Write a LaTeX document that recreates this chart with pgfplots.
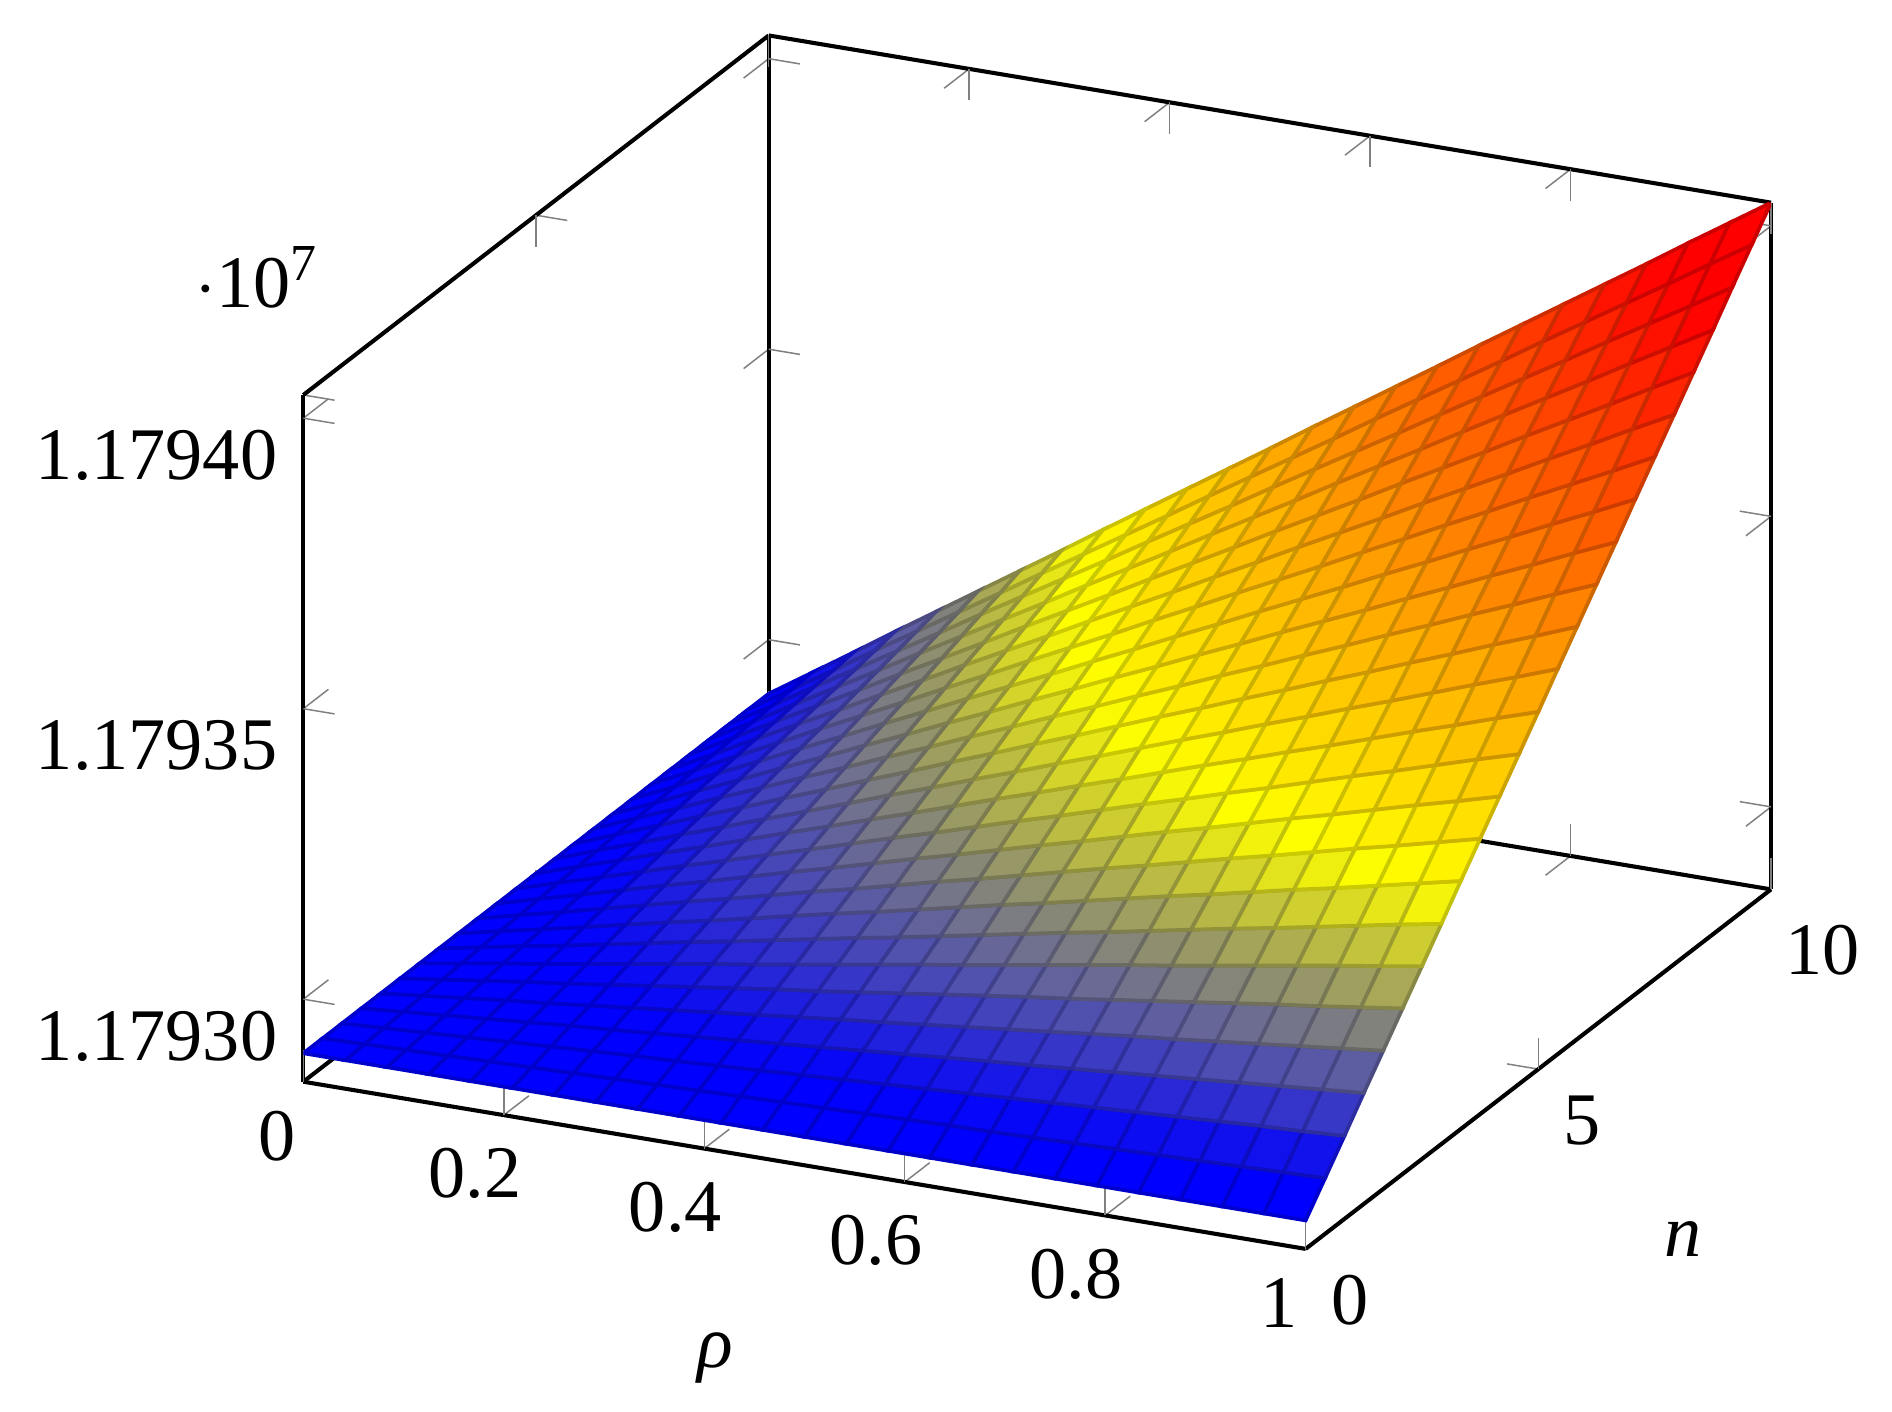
\documentclass[border=0pt]{standalone}
\usepackage{fontspec}
\setmainfont{Liberation Serif}
\usepackage{pgfplots}
\pgfplotsset{compat=1.18}
\begin{document}
\begin{tikzpicture}
\begin{axis}[
  name=a,
  x={(135.08pt,-22.53pt)}, y={(6.272pt,4.845pt)}, z={(0pt,0.0783pt)},
  xmin=0,xmax=1,ymin=0,ymax=10,zmin=11792858,zmax=11794040,
  xtick={0,0.2,0.4,0.6,0.8,1}, ytick={0,5,10},
  ztick={11793000,11793500,11794000},
  zticklabels={1.17930,1.17935,1.17940},
  scaled z ticks=false,
  /pgf/number format/assume math mode=true,
  every tick/.style={very thin,gray},
  axis line style={line width=0.55pt},
  xlabel={\textit{ρ}}, ylabel={\textit{n}},
  xlabel style={yshift=-1.5pt},
  ylabel style={yshift=-0.4pt,xshift=0.3pt},
  colormap/hot,
]
\addplot3[surf,line width=0.5pt,mesh/rows=25] table[x expr=\thisrow{i}/24,y expr=\thisrow{j}*10/24,z=z,row sep=\\]{
i j z\\
0 0 11792907\\ 0 1 11792907\\ 0 2 11792907\\ 0 3 11792907\\ 0 4 11792907\\ 0 5 11792907\\ 0 6 11792907\\ 0 7 11792907\\ 0 8 11792907\\ 0 9 11792907\\ 0 10 11792907\\ 0 11 11792907\\ 0 12 11792907\\ 0 13 11792907\\ 0 14 11792907\\ 0 15 11792907\\ 0 16 11792907\\ 0 17 11792907\\ 0 18 11792907\\ 0 19 11792907\\ 0 20 11792907\\ 0 21 11792907\\ 0 22 11792907\\ 0 23 11792907\\ 0 24 11792907\\
1 0 11792907\\ 1 1 11792909\\ 1 2 11792911\\ 1 3 11792913\\ 1 4 11792915\\ 1 5 11792917\\ 1 6 11792919\\ 1 7 11792921\\ 1 8 11792923\\ 1 9 11792925\\ 1 10 11792927\\ 1 11 11792929\\ 1 12 11792931\\ 1 13 11792933\\ 1 14 11792935\\ 1 15 11792937\\ 1 16 11792938\\ 1 17 11792940\\ 1 18 11792942\\ 1 19 11792944\\ 1 20 11792946\\ 1 21 11792948\\ 1 22 11792950\\ 1 23 11792952\\ 1 24 11792954\\
2 0 11792907\\ 2 1 11792911\\ 2 2 11792915\\ 2 3 11792919\\ 2 4 11792923\\ 2 5 11792927\\ 2 6 11792931\\ 2 7 11792935\\ 2 8 11792938\\ 2 9 11792942\\ 2 10 11792946\\ 2 11 11792950\\ 2 12 11792954\\ 2 13 11792958\\ 2 14 11792962\\ 2 15 11792966\\ 2 16 11792970\\ 2 17 11792974\\ 2 18 11792978\\ 2 19 11792982\\ 2 20 11792986\\ 2 21 11792990\\ 2 22 11792994\\ 2 23 11792997\\ 2 24 11793001\\
3 0 11792907\\ 3 1 11792913\\ 3 2 11792919\\ 3 3 11792925\\ 3 4 11792931\\ 3 5 11792937\\ 3 6 11792942\\ 3 7 11792948\\ 3 8 11792954\\ 3 9 11792960\\ 3 10 11792966\\ 3 11 11792972\\ 3 12 11792978\\ 3 13 11792984\\ 3 14 11792990\\ 3 15 11792996\\ 3 16 11793001\\ 3 17 11793007\\ 3 18 11793013\\ 3 19 11793019\\ 3 20 11793025\\ 3 21 11793031\\ 3 22 11793037\\ 3 23 11793043\\ 3 24 11793049\\
4 0 11792907\\ 4 1 11792915\\ 4 2 11792923\\ 4 3 11792931\\ 4 4 11792938\\ 4 5 11792946\\ 4 6 11792954\\ 4 7 11792962\\ 4 8 11792970\\ 4 9 11792978\\ 4 10 11792986\\ 4 11 11792994\\ 4 12 11793001\\ 4 13 11793009\\ 4 14 11793017\\ 4 15 11793025\\ 4 16 11793033\\ 4 17 11793041\\ 4 18 11793049\\ 4 19 11793056\\ 4 20 11793064\\ 4 21 11793072\\ 4 22 11793080\\ 4 23 11793088\\ 4 24 11793096\\
5 0 11792907\\ 5 1 11792917\\ 5 2 11792927\\ 5 3 11792937\\ 5 4 11792946\\ 5 5 11792956\\ 5 6 11792966\\ 5 7 11792976\\ 5 8 11792986\\ 5 9 11792996\\ 5 10 11793005\\ 5 11 11793015\\ 5 12 11793025\\ 5 13 11793035\\ 5 14 11793045\\ 5 15 11793055\\ 5 16 11793064\\ 5 17 11793074\\ 5 18 11793084\\ 5 19 11793094\\ 5 20 11793104\\ 5 21 11793114\\ 5 22 11793123\\ 5 23 11793133\\ 5 24 11793143\\
6 0 11792907\\ 6 1 11792919\\ 6 2 11792931\\ 6 3 11792942\\ 6 4 11792954\\ 6 5 11792966\\ 6 6 11792978\\ 6 7 11792990\\ 6 8 11793001\\ 6 9 11793013\\ 6 10 11793025\\ 6 11 11793037\\ 6 12 11793049\\ 6 13 11793060\\ 6 14 11793072\\ 6 15 11793084\\ 6 16 11793096\\ 6 17 11793108\\ 6 18 11793119\\ 6 19 11793131\\ 6 20 11793143\\ 6 21 11793155\\ 6 22 11793167\\ 6 23 11793178\\ 6 24 11793190\\
7 0 11792907\\ 7 1 11792921\\ 7 2 11792935\\ 7 3 11792948\\ 7 4 11792962\\ 7 5 11792976\\ 7 6 11792990\\ 7 7 11793003\\ 7 8 11793017\\ 7 9 11793031\\ 7 10 11793045\\ 7 11 11793058\\ 7 12 11793072\\ 7 13 11793086\\ 7 14 11793100\\ 7 15 11793114\\ 7 16 11793127\\ 7 17 11793141\\ 7 18 11793155\\ 7 19 11793169\\ 7 20 11793182\\ 7 21 11793196\\ 7 22 11793210\\ 7 23 11793224\\ 7 24 11793237\\
8 0 11792907\\ 8 1 11792923\\ 8 2 11792938\\ 8 3 11792954\\ 8 4 11792970\\ 8 5 11792986\\ 8 6 11793001\\ 8 7 11793017\\ 8 8 11793033\\ 8 9 11793049\\ 8 10 11793064\\ 8 11 11793080\\ 8 12 11793096\\ 8 13 11793112\\ 8 14 11793127\\ 8 15 11793143\\ 8 16 11793159\\ 8 17 11793175\\ 8 18 11793190\\ 8 19 11793206\\ 8 20 11793222\\ 8 21 11793237\\ 8 22 11793253\\ 8 23 11793269\\ 8 24 11793285\\
9 0 11792907\\ 9 1 11792925\\ 9 2 11792942\\ 9 3 11792960\\ 9 4 11792978\\ 9 5 11792996\\ 9 6 11793013\\ 9 7 11793031\\ 9 8 11793049\\ 9 9 11793066\\ 9 10 11793084\\ 9 11 11793102\\ 9 12 11793119\\ 9 13 11793137\\ 9 14 11793155\\ 9 15 11793173\\ 9 16 11793190\\ 9 17 11793208\\ 9 18 11793226\\ 9 19 11793243\\ 9 20 11793261\\ 9 21 11793279\\ 9 22 11793296\\ 9 23 11793314\\ 9 24 11793332\\
10 0 11792907\\ 10 1 11792927\\ 10 2 11792946\\ 10 3 11792966\\ 10 4 11792986\\ 10 5 11793005\\ 10 6 11793025\\ 10 7 11793045\\ 10 8 11793064\\ 10 9 11793084\\ 10 10 11793104\\ 10 11 11793123\\ 10 12 11793143\\ 10 13 11793163\\ 10 14 11793182\\ 10 15 11793202\\ 10 16 11793222\\ 10 17 11793241\\ 10 18 11793261\\ 10 19 11793281\\ 10 20 11793300\\ 10 21 11793320\\ 10 22 11793340\\ 10 23 11793359\\ 10 24 11793379\\
11 0 11792907\\ 11 1 11792929\\ 11 2 11792950\\ 11 3 11792972\\ 11 4 11792994\\ 11 5 11793015\\ 11 6 11793037\\ 11 7 11793058\\ 11 8 11793080\\ 11 9 11793102\\ 11 10 11793123\\ 11 11 11793145\\ 11 12 11793167\\ 11 13 11793188\\ 11 14 11793210\\ 11 15 11793232\\ 11 16 11793253\\ 11 17 11793275\\ 11 18 11793296\\ 11 19 11793318\\ 11 20 11793340\\ 11 21 11793361\\ 11 22 11793383\\ 11 23 11793405\\ 11 24 11793426\\
12 0 11792907\\ 12 1 11792931\\ 12 2 11792954\\ 12 3 11792978\\ 12 4 11793001\\ 12 5 11793025\\ 12 6 11793049\\ 12 7 11793072\\ 12 8 11793096\\ 12 9 11793119\\ 12 10 11793143\\ 12 11 11793167\\ 12 12 11793190\\ 12 13 11793214\\ 12 14 11793237\\ 12 15 11793261\\ 12 16 11793285\\ 12 17 11793308\\ 12 18 11793332\\ 12 19 11793355\\ 12 20 11793379\\ 12 21 11793403\\ 12 22 11793426\\ 12 23 11793450\\ 12 24 11793473\\
13 0 11792907\\ 13 1 11792933\\ 13 2 11792958\\ 13 3 11792984\\ 13 4 11793009\\ 13 5 11793035\\ 13 6 11793060\\ 13 7 11793086\\ 13 8 11793112\\ 13 9 11793137\\ 13 10 11793163\\ 13 11 11793188\\ 13 12 11793214\\ 13 13 11793239\\ 13 14 11793265\\ 13 15 11793291\\ 13 16 11793316\\ 13 17 11793342\\ 13 18 11793367\\ 13 19 11793393\\ 13 20 11793418\\ 13 21 11793444\\ 13 22 11793470\\ 13 23 11793495\\ 13 24 11793521\\
14 0 11792907\\ 14 1 11792935\\ 14 2 11792962\\ 14 3 11792990\\ 14 4 11793017\\ 14 5 11793045\\ 14 6 11793072\\ 14 7 11793100\\ 14 8 11793127\\ 14 9 11793155\\ 14 10 11793182\\ 14 11 11793210\\ 14 12 11793237\\ 14 13 11793265\\ 14 14 11793293\\ 14 15 11793320\\ 14 16 11793348\\ 14 17 11793375\\ 14 18 11793403\\ 14 19 11793430\\ 14 20 11793458\\ 14 21 11793485\\ 14 22 11793513\\ 14 23 11793540\\ 14 24 11793568\\
15 0 11792907\\ 15 1 11792937\\ 15 2 11792966\\ 15 3 11792996\\ 15 4 11793025\\ 15 5 11793055\\ 15 6 11793084\\ 15 7 11793114\\ 15 8 11793143\\ 15 9 11793173\\ 15 10 11793202\\ 15 11 11793232\\ 15 12 11793261\\ 15 13 11793291\\ 15 14 11793320\\ 15 15 11793350\\ 15 16 11793379\\ 15 17 11793409\\ 15 18 11793438\\ 15 19 11793468\\ 15 20 11793497\\ 15 21 11793527\\ 15 22 11793556\\ 15 23 11793586\\ 15 24 11793615\\
16 0 11792907\\ 16 1 11792938\\ 16 2 11792970\\ 16 3 11793001\\ 16 4 11793033\\ 16 5 11793064\\ 16 6 11793096\\ 16 7 11793127\\ 16 8 11793159\\ 16 9 11793190\\ 16 10 11793222\\ 16 11 11793253\\ 16 12 11793285\\ 16 13 11793316\\ 16 14 11793348\\ 16 15 11793379\\ 16 16 11793411\\ 16 17 11793442\\ 16 18 11793473\\ 16 19 11793505\\ 16 20 11793536\\ 16 21 11793568\\ 16 22 11793599\\ 16 23 11793631\\ 16 24 11793662\\
17 0 11792907\\ 17 1 11792940\\ 17 2 11792974\\ 17 3 11793007\\ 17 4 11793041\\ 17 5 11793074\\ 17 6 11793108\\ 17 7 11793141\\ 17 8 11793175\\ 17 9 11793208\\ 17 10 11793241\\ 17 11 11793275\\ 17 12 11793308\\ 17 13 11793342\\ 17 14 11793375\\ 17 15 11793409\\ 17 16 11793442\\ 17 17 11793475\\ 17 18 11793509\\ 17 19 11793542\\ 17 20 11793576\\ 17 21 11793609\\ 17 22 11793643\\ 17 23 11793676\\ 17 24 11793710\\
18 0 11792907\\ 18 1 11792942\\ 18 2 11792978\\ 18 3 11793013\\ 18 4 11793049\\ 18 5 11793084\\ 18 6 11793119\\ 18 7 11793155\\ 18 8 11793190\\ 18 9 11793226\\ 18 10 11793261\\ 18 11 11793296\\ 18 12 11793332\\ 18 13 11793367\\ 18 14 11793403\\ 18 15 11793438\\ 18 16 11793473\\ 18 17 11793509\\ 18 18 11793544\\ 18 19 11793580\\ 18 20 11793615\\ 18 21 11793651\\ 18 22 11793686\\ 18 23 11793721\\ 18 24 11793757\\
19 0 11792907\\ 19 1 11792944\\ 19 2 11792982\\ 19 3 11793019\\ 19 4 11793056\\ 19 5 11793094\\ 19 6 11793131\\ 19 7 11793169\\ 19 8 11793206\\ 19 9 11793243\\ 19 10 11793281\\ 19 11 11793318\\ 19 12 11793355\\ 19 13 11793393\\ 19 14 11793430\\ 19 15 11793468\\ 19 16 11793505\\ 19 17 11793542\\ 19 18 11793580\\ 19 19 11793617\\ 19 20 11793654\\ 19 21 11793692\\ 19 22 11793729\\ 19 23 11793767\\ 19 24 11793804\\
20 0 11792907\\ 20 1 11792946\\ 20 2 11792986\\ 20 3 11793025\\ 20 4 11793064\\ 20 5 11793104\\ 20 6 11793143\\ 20 7 11793182\\ 20 8 11793222\\ 20 9 11793261\\ 20 10 11793300\\ 20 11 11793340\\ 20 12 11793379\\ 20 13 11793418\\ 20 14 11793458\\ 20 15 11793497\\ 20 16 11793536\\ 20 17 11793576\\ 20 18 11793615\\ 20 19 11793654\\ 20 20 11793694\\ 20 21 11793733\\ 20 22 11793772\\ 20 23 11793812\\ 20 24 11793851\\
21 0 11792907\\ 21 1 11792948\\ 21 2 11792990\\ 21 3 11793031\\ 21 4 11793072\\ 21 5 11793114\\ 21 6 11793155\\ 21 7 11793196\\ 21 8 11793237\\ 21 9 11793279\\ 21 10 11793320\\ 21 11 11793361\\ 21 12 11793403\\ 21 13 11793444\\ 21 14 11793485\\ 21 15 11793527\\ 21 16 11793568\\ 21 17 11793609\\ 21 18 11793651\\ 21 19 11793692\\ 21 20 11793733\\ 21 21 11793774\\ 21 22 11793816\\ 21 23 11793857\\ 21 24 11793898\\
22 0 11792907\\ 22 1 11792950\\ 22 2 11792994\\ 22 3 11793037\\ 22 4 11793080\\ 22 5 11793123\\ 22 6 11793167\\ 22 7 11793210\\ 22 8 11793253\\ 22 9 11793296\\ 22 10 11793340\\ 22 11 11793383\\ 22 12 11793426\\ 22 13 11793470\\ 22 14 11793513\\ 22 15 11793556\\ 22 16 11793599\\ 22 17 11793643\\ 22 18 11793686\\ 22 19 11793729\\ 22 20 11793772\\ 22 21 11793816\\ 22 22 11793859\\ 22 23 11793902\\ 22 24 11793946\\
23 0 11792907\\ 23 1 11792952\\ 23 2 11792997\\ 23 3 11793043\\ 23 4 11793088\\ 23 5 11793133\\ 23 6 11793178\\ 23 7 11793224\\ 23 8 11793269\\ 23 9 11793314\\ 23 10 11793359\\ 23 11 11793405\\ 23 12 11793450\\ 23 13 11793495\\ 23 14 11793540\\ 23 15 11793586\\ 23 16 11793631\\ 23 17 11793676\\ 23 18 11793721\\ 23 19 11793767\\ 23 20 11793812\\ 23 21 11793857\\ 23 22 11793902\\ 23 23 11793948\\ 23 24 11793993\\
24 0 11792907\\ 24 1 11792954\\ 24 2 11793001\\ 24 3 11793049\\ 24 4 11793096\\ 24 5 11793143\\ 24 6 11793190\\ 24 7 11793237\\ 24 8 11793285\\ 24 9 11793332\\ 24 10 11793379\\ 24 11 11793426\\ 24 12 11793473\\ 24 13 11793521\\ 24 14 11793568\\ 24 15 11793615\\ 24 16 11793662\\ 24 17 11793710\\ 24 18 11793757\\ 24 19 11793804\\ 24 20 11793851\\ 24 21 11793898\\ 24 22 11793946\\ 24 23 11793993\\ 24 24 11794040\\
};
\coordinate (bl) at (axis cs:0,0,11792858);
\end{axis}
\node[anchor=base west,inner sep=0pt] at ([shift={(-14.7pt,104.4pt)}]bl) {$\cdot$10\textsuperscript{7}};
\pgfresetboundingbox
\path[use as bounding box] ([shift={(-40.88pt,-44.51pt)}]bl) rectangle ([shift={(214.1pt,145.78pt)}]bl);
\end{tikzpicture}
\end{document}
